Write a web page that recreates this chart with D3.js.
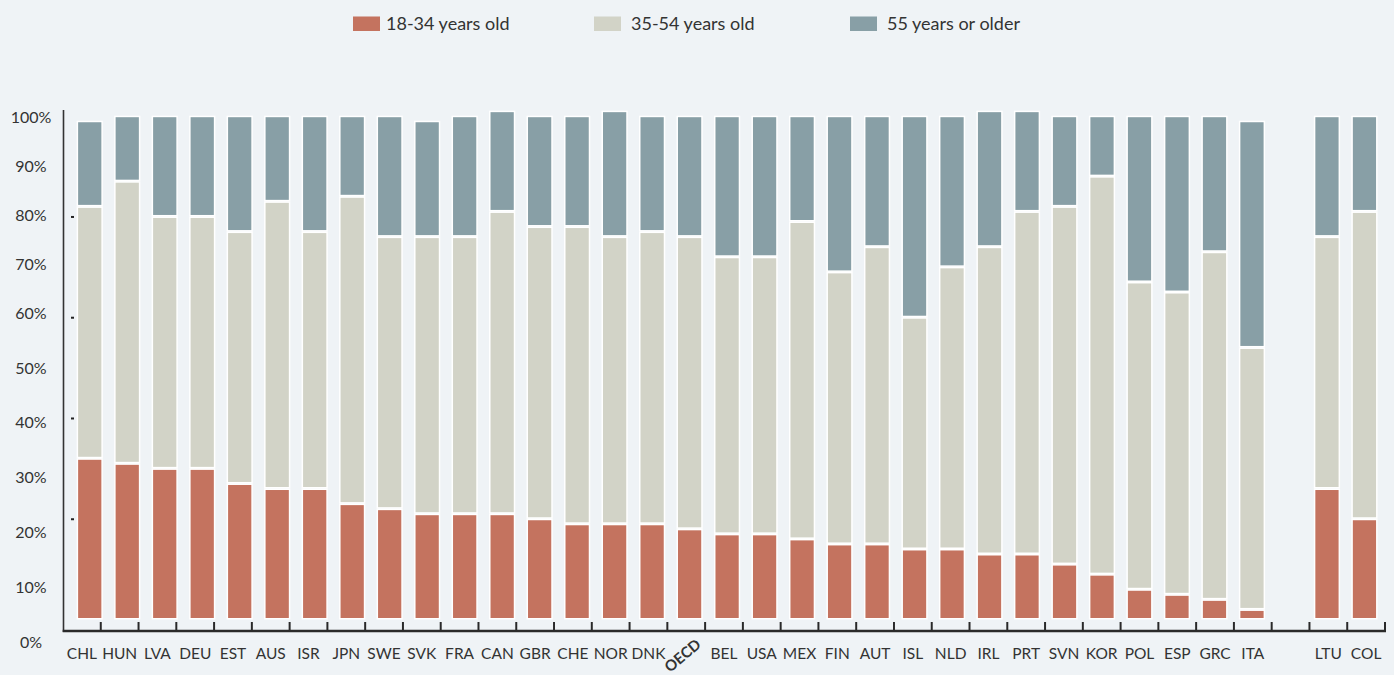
<!DOCTYPE html>
<html>
<head>
<meta charset="utf-8">
<script src="https://cdn.jsdelivr.net/npm/d3@7"></script>
<style>
  html, body { margin: 0; padding: 0; background: #eff3f6; }
  svg { display: block; }
  text { font-family: Lato, "Open Sans", sans-serif; fill: #333; }
</style>
</head>
<body>
<svg id="chart" width="1394" height="675"></svg>
<script>
// ---- data ----
const countries = ["CHL","HUN","LVA","DEU","EST","AUS","ISR","JPN","SWE","SVK","FRA","CAN","GBR","CHE","NOR","DNK","OECD","BEL","USA","MEX","FIN","AUT","ISL","NLD","IRL","PRT","SVN","KOR","POL","ESP","GRC","ITA","LTU","COL"];
const age18to34 = [32,31,30,30,27,26,26,23,22,21,21,21,20,19,19,19,18,17,17,16,15,15,14,14,13,13,11,9,6,5,4,2,26,20];
const age35to54 = [50,56,50,50,50,57,51,61,54,55,55,60,58,59,57,58,58,55,55,63,54,59,46,56,61,68,71,79,61,60,69,52,50,61];
const age55plus = [17,13,20,20,23,17,23,16,24,23,24,20,22,22,25,23,24,28,28,21,31,26,40,30,27,20,18,12,33,35,27,45,24,19];
const seriesNames = ["18-34 years old","35-54 years old","55 years or older"];
const seriesColors = ["#c4735f","#d2d3c7","#889fa6"];
const yTicks = [0,10,20,30,40,50,60,70,80,90,100];
const yMarks = [20,40,60,80];
const spacerAfter = "ITA";
const highlight = "OECD";

// ---- layout ----
const svg = d3.select("#chart");
const keys = [];
countries.forEach(c => { keys.push(c); if (c === spacerAfter) keys.push("__gap__"); });

const xAxisScale = d3.scaleBand().domain(keys).range([63, 1385]).padding(0);
const xBar = d3.scaleBand().domain(keys).range([71, 1383.2]).paddingInner(0.34).paddingOuter(0.17);
const y = d3.scaleLinear().domain([0, 100]).range([619.5, 115.7]);
const yLabel = d3.scaleLinear().domain([0, 50, 60, 100]).range([642, 368, 313, 117]);

// ---- stacked data ----
const rows = countries.map((c, i) => ({ key: c, s0: age18to34[i], s1: age35to54[i], s2: age55plus[i] }));
const stack = d3.stack().keys(["s0","s1","s2"]);
const stacked = stack(rows);

const g = svg.append("g");
stacked.forEach((layer, li) => {
  g.append("g").selectAll("rect").data(layer).join("rect")
    .attr("x", d => xBar(d.data.key))
    .attr("width", xBar.bandwidth())
    .attr("y", d => y(d[1]) + 0.75)
    .attr("height", d => Math.max(0, y(d[0]) - y(d[1]) - 1.5))
    .attr("fill", seriesColors[li])
    .attr("stroke", "#ffffff")
    .attr("stroke-width", 1.5);
});

// ---- y axis ----
svg.append("line").attr("x1", 63.5).attr("x2", 63.5).attr("y1", 110).attr("y2", 632)
  .attr("stroke", "#333").attr("stroke-width", 1.6);

const yMarkAxis = d3.axisRight(y).tickValues(yMarks).tickSize(3).tickFormat("");
svg.append("g").attr("transform", "translate(71,0)").call(yMarkAxis)
  .call(s => s.select(".domain").remove())
  .call(s => s.selectAll(".tick line").attr("stroke", "#222").attr("stroke-width", 2));

const yLabelAxis = d3.axisLeft(yLabel).tickValues(yTicks).tickSize(0).tickFormat(d => d + "%");
svg.append("g").attr("transform", "translate(31,0)").call(yLabelAxis)
  .call(s => s.select(".domain").remove())
  .call(s => s.selectAll(".tick text").attr("x", 0).attr("text-anchor", "middle")
    .style("font-family", "Lato, sans-serif").style("font-size", "16px").attr("fill", "#333"));

// ---- x axis ----
svg.append("line").attr("x1", 62.7).attr("x2", 1386).attr("y1", 631).attr("y2", 631)
  .attr("stroke", "#2a2a2a").attr("stroke-width", 2.5);

const boundaries = keys.map(k => xAxisScale(k) + xAxisScale.bandwidth());
svg.append("g").selectAll("line").data(boundaries).join("line")
  .attr("x1", d => d).attr("x2", d => d).attr("y1", 622).attr("y2", 631)
  .attr("stroke", "#2a2a2a").attr("stroke-width", 2);

const xAxis = d3.axisBottom(xAxisScale).tickSize(0)
  .tickFormat(d => (d === "__gap__" || d === highlight) ? "" : d);
svg.append("g").attr("transform", "translate(0,631)").call(xAxis)
  .call(s => s.select(".domain").remove())
  .call(s => s.selectAll(".tick text").attr("y", 17).attr("dy", "0.71em")
    .style("font-family", "Lato, sans-serif").style("font-size", "15.5px").attr("fill", "#333"));

const hx = xAxisScale(highlight) + xAxisScale.bandwidth() / 2 - 4;
svg.append("text")
  .attr("transform", `translate(${hx},655) rotate(-40)`)
  .attr("text-anchor", "middle").attr("dominant-baseline", "central")
  .style("font-size", "15px").style("font-weight", "bold").attr("fill", "#333")
  .text(highlight);

// ---- legend ----
const legendX = [353, 594, 850];
const legend = svg.append("g").selectAll("g").data(seriesNames).join("g")
  .attr("transform", (d, i) => `translate(${legendX[i]},0)`);
legend.append("rect").attr("x", 0).attr("y", 16.5).attr("width", 27).attr("height", 14.5)
  .attr("fill", (d, i) => seriesColors[i]);
legend.append("text").attr("x", (d, i) => i === 0 ? 33 : 37).attr("y", 30)
  .style("font-size", "18px").attr("fill", "#444").text(d => d);
</script>
</body>
</html>
